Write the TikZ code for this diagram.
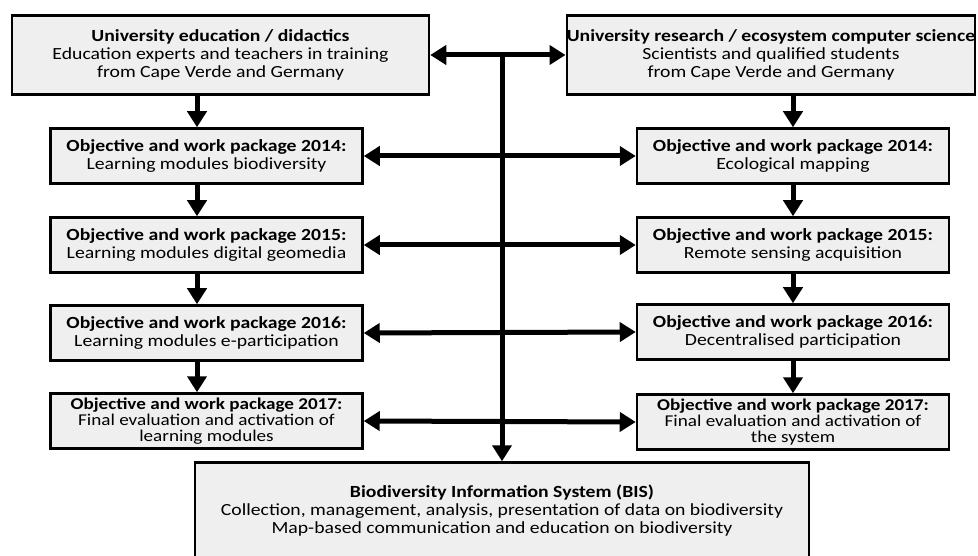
\documentclass[tikz,border=0pt]{standalone}
\usepackage{fontspec}
\setmainfont{Carlito}[FakeStretch=1.16]
\usetikzlibrary{arrows.meta}
\definecolor{boxgray}{RGB}{239,239,239}

\tikzset{
    box/.style={draw, line width=2.5pt, fill=boxgray, align=center, inner sep=0pt,
        font=\fontsize{17}{18}\selectfont},
    topbox/.style={box, minimum width=417pt, minimum height=79pt},
    wpbox/.style={box, minimum width=312pt, minimum height=55pt, font=\fontsize{17}{17.5}\selectfont},
    tightbox/.style={wpbox, font=\fontsize{16.5}{15.8}\selectfont},
    arr/.style={line width=5pt, -{Triangle[length=16pt,width=19pt]}},
    dblarr/.style={line width=5pt, {Triangle[length=16pt,width=19pt]}-{Triangle[length=16pt,width=19pt]}},
}

\begin{document}
\begin{tikzpicture}[x=1pt,y=-1pt]
    \useasboundingbox (0,0) rectangle (978,556);
    \clip (0,0) rectangle (978,556);

    % Draw the two top boxes
    \node[topbox] (edu) at (220.5,55) {\textbf{University education / didactics}\\Education experts and teachers in training\\from Cape Verde and Germany};
    \node[topbox, minimum width=408pt] (res) at (771,55) {\textbf{University research / ecosystem computer science}\\Scientists and qualified students\\from Cape Verde and Germany};

    % Draw the work package boxes (left column)
    \node[wpbox] (l14) at (206.5,156) {\textbf{Objective and work package 2014:}\\Learning modules biodiversity};
    \node[wpbox] (l15) at (206.5,245) {\textbf{Objective and work package 2015:}\\Learning modules digital geomedia};
    \node[wpbox] (l16) at (206.5,333) {\textbf{Objective and work package 2016:}\\Learning modules e-participation};
    \node[tightbox] (l17) at (206.5,421) {\textbf{Objective and work package 2017:}\\Final evaluation and activation of\\learning modules};

    % Draw the work package boxes (right column)
    \node[wpbox] (r14) at (793,156) {\textbf{Objective and work package 2014:}\\Ecological mapping};
    \node[wpbox] (r15) at (793,245) {\textbf{Objective and work package 2015:}\\Remote sensing acquisition};
    \node[wpbox] (r16) at (793,332) {\textbf{Objective and work package 2016:}\\Decentralised participation};
    \node[tightbox] (r17) at (793,422) {\textbf{Objective and work package 2017:}\\Final evaluation and activation of\\the system};

    % Draw the BIS box at the bottom
    \node[box, minimum width=614pt, minimum height=97pt] (bis) at (502,511) {\textbf{Biodiversity Information System (BIS)}\\Collection, management,  analysis, presentation of data on biodiversity\\Map-based communication and education on biodiversity};

    \coordinate (hub) at (502,55);

    % Draw the horizontal arrows
    \draw[dblarr] (edu.east) -- (res.west);
    \foreach \n in {14,15,16,17} {
        \draw[dblarr] (l\n.east) -- (r\n.west);
    }

    % Draw the vertical arrows
    \draw[arr] (hub) -- (bis.north);
    \draw[arr] ([xshift=-23.5pt]edu.south) -- ([xshift=-9.5pt]l14.north);
    \foreach \a/\b in {l14/l15, l15/l16, l16/l17} {
        \draw[arr] ([xshift=-9.5pt]\a.south) -- ([xshift=-9.5pt]\b.north);
    }
    \draw[arr] ([xshift=22pt]res.south) -- (r14.north);
    \foreach \a/\b in {r14/r15, r15/r16, r16/r17} {
        \draw[arr] (\a.south) -- (\b.north);
    }
\end{tikzpicture}
\end{document}
